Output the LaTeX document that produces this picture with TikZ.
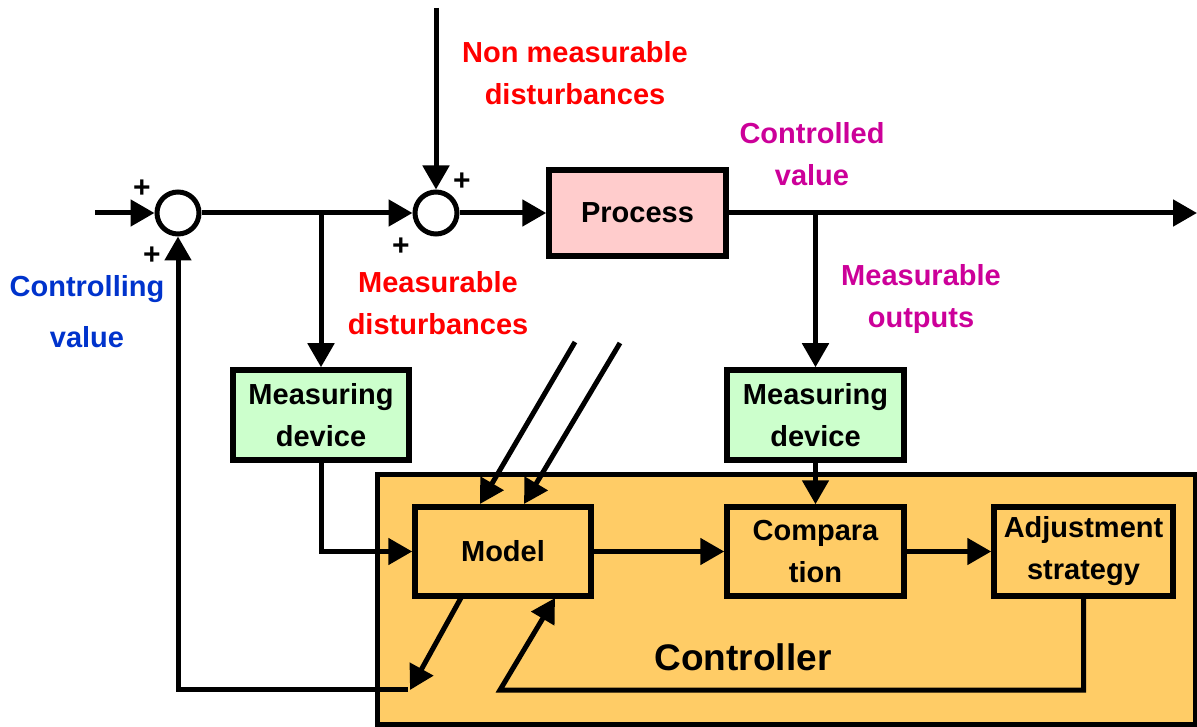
\documentclass[tikz,border=0pt]{standalone}
\usepackage{fontspec}
\setmainfont{Liberation Sans}
\usetikzlibrary{arrows.meta}
\definecolor{procfill}{RGB}{255,204,204}
\definecolor{measfill}{RGB}{204,255,204}
\definecolor{ctrlfill}{RGB}{255,204,102}
\definecolor{lblred}{RGB}{255,0,0}
\definecolor{lblmag}{RGB}{204,0,153}
\definecolor{lblblue}{RGB}{0,51,204}
\tikzset{
  box/.style={draw, line width=5.5pt, font=\fontsize{29}{42}\selectfont\bfseries, align=center, inner sep=0pt},
  conn/.style={line width=5pt},
  arr/.style={line width=5pt, -{Triangle[length=24pt,width=26pt]}},
  junc/.style={circle, draw, line width=5pt, fill=white, minimum size=42pt, inner sep=0pt},
  lbl/.style={font=\fontsize{29}{42}\selectfont\bfseries, align=center, inner sep=0pt},
  plus/.style={font=\fontsize{30}{30}\selectfont\bfseries, inner sep=0pt}
}
\begin{document}
\begin{tikzpicture}[x=1pt,y=-1pt]
\useasboundingbox (0,0) rectangle (1197,727);
% controller background
\node[draw, line width=5pt, fill=ctrlfill, minimum width=818pt, minimum height=250pt, inner sep=0pt] (ctrl) at (786.5,599.5) {};
\node[font=\fontsize{37}{37}\selectfont\bfseries, inner sep=0pt] (ctrltxt) at (743,657) {Controller};
% blocks
\node[box, fill=procfill, minimum width=177pt, minimum height=86pt] (proc) at (637.5,213) {Process};
\node[box, fill=measfill, minimum width=176pt, minimum height=90pt] (m1) at (321,415) {Measuring\\device};
\node[box, fill=measfill, minimum width=177pt, minimum height=90pt] (m2) at (815.5,415) {Measuring\\device};
\node[box, minimum width=176pt, minimum height=89pt] (model) at (503,551.5) {Model};
\node[box, minimum width=177pt, minimum height=89pt] (comp) at (815.5,551.5) {Compara\\tion};
\node[box, minimum width=179pt, minimum height=89pt] (adj) at (1083.5,551.5) {Adjustment\\strategy};
% junctions
\node[junc] (j1) at (178,213) {};
\node[junc] (j2) at (436,213) {};
% plus signs
\node[plus] (p1) at (142,189) {+};
\node[plus] (p2) at (152,256) {+};
\node[plus] (p3) at (462,182) {+};
\node[plus] (p4) at (401,247) {+};
% labels
\node[lbl, text=lblred] (nmd) at (575,73) {Non measurable\\disturbances};
\node[lbl, text=lblmag] (cv) at (812,154) {Controlled\\value};
\node[lbl, text=lblred] (md) at (438,303) {Measurable\\disturbances};
\node[lbl, text=lblmag] (mo) at (921,299) {Measurable\\outputs};
\node[lbl, text=lblblue, font=\fontsize{29}{51}\selectfont\bfseries] (cvl) at (87,312) {Controlling\\value};
% coordinates
\coordinate (in) at (95,213);
\coordinate (top) at (436,8);
\coordinate (b1) at (321,213);
\coordinate (b2) at (815.5,213);
\coordinate (out) at (1197,213);
\coordinate (fb1) at (1083.5,690);
\coordinate (fb2) at (500,690);
\coordinate (fbt) at (555,598);
\coordinate (mos) at (462,596);
\coordinate (mot) at (410,690);
\coordinate (c1) at (408,689);
\coordinate (d1s) at (575,342);
\coordinate (d1e) at (480,504);
\coordinate (d2s) at (620,343);
\coordinate (d2e) at (524,504);
% connectors
\draw[arr] (in) -- (j1.west);
\draw[arr] (top) -- (j2.north);
\draw[arr] (j1.east) -- (j2.west);
\draw[arr] (b1) -- (m1.north);
\draw[arr] (j2.east) -- (proc.west);
\draw[arr] (proc.east) -- (out);
\draw[arr] (b2) -- (m2.north);
\draw[arr] (m2.south) -- (comp.north);
\draw[arr] (m1.south) |- (model.west);
\draw[arr] (model.east) -- (comp.west);
\draw[arr] (comp.east) -- (adj.west);
\draw[arr] (adj.south) -- (fb1) -- (fb2) -- (fbt);
\draw[arr] (mos) -- (mot);
\draw[arr] (c1) -| (j1.south);
\draw[arr] (d1s) -- (d1e);
\draw[arr] (d2s) -- (d2e);
\end{tikzpicture}
\end{document}
